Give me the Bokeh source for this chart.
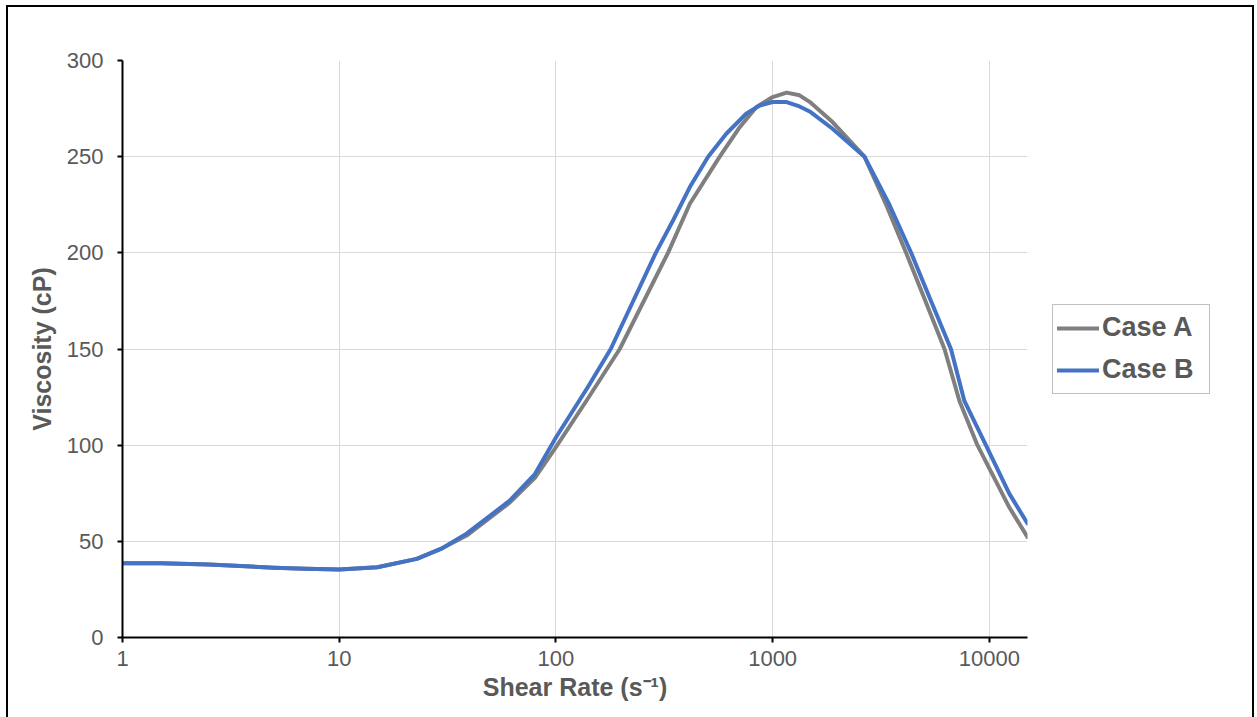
from bokeh.plotting import figure
from bokeh.models import FixedTicker, NumeralTickFormatter, Legend, LegendItem, Range1d
from bokeh.embed import file_html
from bokeh.resources import INLINE

series_names = ["Case A", "Case B"]
shear_a = [1, 1.5, 2.5, 3.5, 5, 7, 10, 15, 22.8, 30, 38.7, 61, 80, 100, 140, 197, 329, 415, 570, 705, 840,
           1000, 1160, 1331, 1482, 1890, 2654, 3340, 4130, 5070, 6210, 7280, 8810, 12360, 15000]
visc_a = [38.6, 38.6, 37.9, 37.2, 36.3, 35.7, 35.3, 36.5, 40.9, 46.5, 53, 70, 83, 99, 124, 150, 200, 225.5, 250, 265.3, 275.7,
          281, 283.3, 281.9, 278.5, 268, 250, 225, 200, 175, 150, 123, 100, 67.7, 52.2]
shear_b = [1, 1.5, 2.5, 3.5, 5, 7, 10, 15, 22.8, 30, 38.7, 61, 80, 100, 140, 179, 289, 347, 415, 504, 611, 755, 871,
           1000, 1160, 1331, 1482, 1890, 2654, 3460, 4357, 5380, 6650, 7670, 9640, 12360, 15000]
visc_b = [38.6, 38.6, 37.9, 37.2, 36.3, 35.7, 35.3, 36.5, 40.9, 46.5, 54, 71, 85, 104, 130, 150, 200, 216.8, 234.2, 250, 261.9, 272.3, 276.6,
          278.4, 278.4, 276.1, 273.5, 264.5, 250, 225, 200, 175, 150, 123, 100, 74.8, 59.3]
x_ticks = [1, 10, 100, 1000, 10000]
y_ticks = [0, 50, 100, 150, 200, 250, 300]

TXT = "#595959"
FONT = "Liberation Sans"

p = figure(frame_width=905, frame_height=577, x_axis_type="log",
           output_backend="svg", toolbar_location=None,
           x_range=Range1d(1, 15000), y_range=Range1d(0, 300),
           min_border_left=114, min_border_top=53, min_border_right=0, min_border_bottom=80)
p.styles = {"border": "2px solid black", "margin-left": "6px", "margin-top": "5px",
            "width": "1248px", "height": "730px", "box-sizing": "border-box", "overflow": "hidden"}
p.outline_line_color = None
p.background_fill_color = "white"
p.border_fill_color = "white"

p.xaxis.ticker = FixedTicker(ticks=x_ticks, minor_ticks=[])
p.yaxis.ticker = FixedTicker(ticks=y_ticks, minor_ticks=[])
p.xaxis.formatter = NumeralTickFormatter(format="0")
for ax in (p.xaxis, p.yaxis):
    ax.axis_line_color = "black"
    ax.axis_line_width = 2
    ax.major_tick_line_color = "black"
    ax.major_tick_line_width = 2
    ax.major_tick_out = 5
    ax.major_tick_in = 0
    ax.minor_tick_line_color = None
    ax.major_label_text_font = FONT
    ax.major_label_text_font_size = "22px"
    ax.major_label_text_color = TXT
    ax.axis_label_text_font = FONT
    ax.axis_label_text_font_size = "25px"
    ax.axis_label_text_font_style = "bold"
    ax.axis_label_text_color = TXT
p.xaxis.axis_label = "Shear Rate (s\u207b\u00b9)"
p.yaxis.axis_label = "Viscosity (cP)"
p.xaxis.major_label_standoff = 8
p.xaxis.axis_label_standoff = 4
p.yaxis.major_label_standoff = 14
p.yaxis.axis_label_standoff = 8

p.xgrid.grid_line_color = "#d9d9d9"
p.ygrid.grid_line_color = "#d9d9d9"
p.xgrid.grid_line_width = 1
p.ygrid.grid_line_width = 1

ra = p.line(shear_a, visc_a, line_color="#7f7f7f", line_width=4, line_join="round", line_cap="round")
rb = p.line(shear_b, visc_b, line_color="#4472c4", line_width=4, line_join="round", line_cap="round")

legend = Legend(items=[LegendItem(label=series_names[0], renderers=[ra]),
                       LegendItem(label=series_names[1], renderers=[rb])],
                location="center_left")
legend.label_text_font = FONT
legend.label_text_font_size = "27px"
legend.label_text_font_style = "bold"
legend.label_text_color = TXT
legend.glyph_width = 42
legend.glyph_height = 38
legend.label_height = 38
legend.label_width = 103
legend.label_standoff = 3
legend.spacing = 4
legend.padding = 4
legend.margin = 25
legend.border_line_color = "#7f7f7f"
legend.border_line_width = 1
legend.background_fill_alpha = 1
p.add_layout(legend, "right")

open("out.html", "w").write(file_html(p, INLINE))
